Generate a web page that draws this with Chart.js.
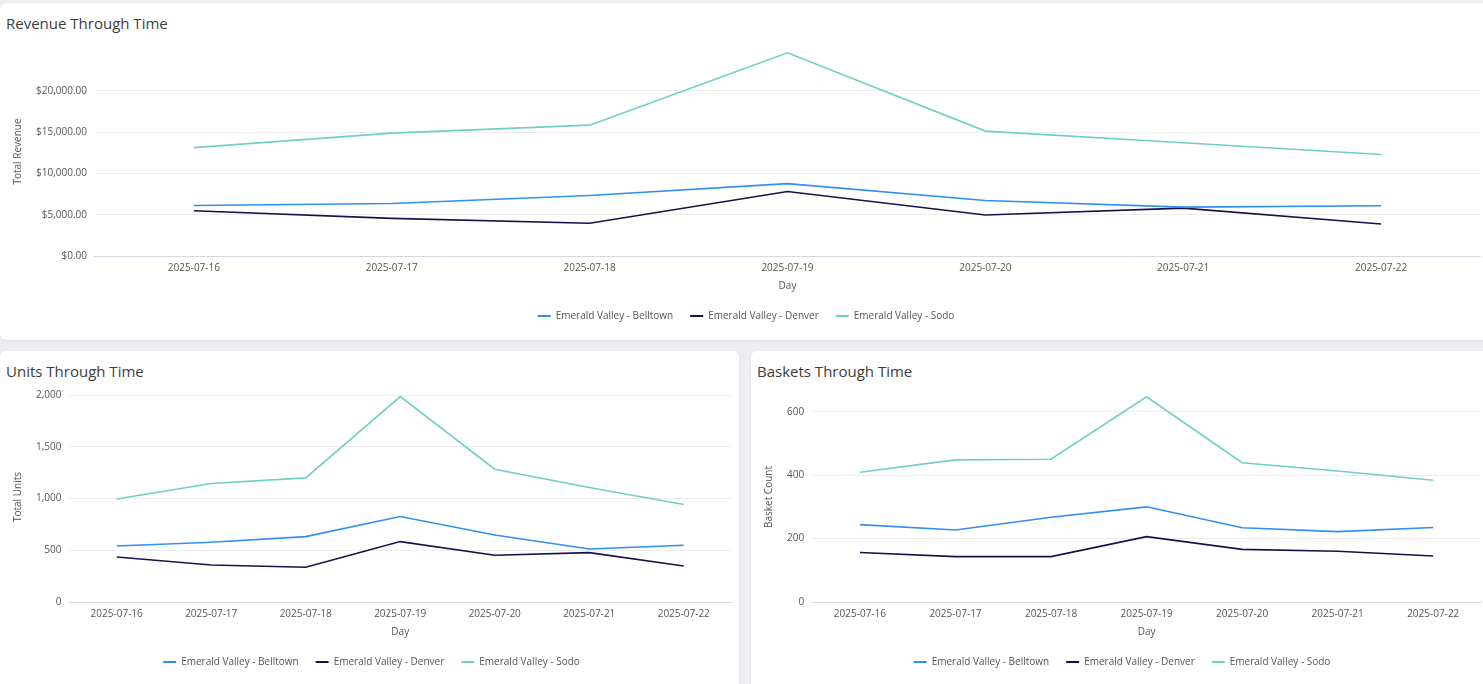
<!DOCTYPE html>
<html>
<head>
<meta charset="utf-8">
<script src="https://cdn.jsdelivr.net/npm/chart.js@4.4.1/dist/chart.umd.min.js"></script>
<style>
  html, body { margin: 0; padding: 0; background: #eceef1; width: 1483px; height: 684px; overflow: hidden; font-family: 'Open Sans', sans-serif; }
  .card { position: absolute; background: #fff; border-radius: 6px; box-shadow: 0 1px 3px rgba(0,0,0,0.08); overflow: hidden; }
  .card h3 { position: absolute; margin: 0; font-weight: 400; font-size: 15px; color: #3d3d3d; left: 6px; top: 10px; }
  .wrap { position: absolute; }
</style>
</head>
<body>
<div class="card" style="left:0; top:3px; width:1490px; height:337px;">
  <h3>Revenue Through Time</h3>
  <div class="wrap" style="left:0; top:30px; width:1483px; height:302px;"><canvas id="revenueChart"></canvas></div>
</div>
<div class="card" style="left:0; top:351px; width:739px; height:340px;">
  <h3>Units Through Time</h3>
  <div class="wrap" style="left:0; top:27px; width:739px; height:303px;"><canvas id="unitsChart"></canvas></div>
</div>
<div class="card" style="left:751px; top:351px; width:740px; height:340px;">
  <h3>Baskets Through Time</h3>
  <div class="wrap" style="left:0; top:27px; width:732px; height:303px;"><canvas id="basketsChart"></canvas></div>
</div>
<script>
// Days and store names
const days = ['2025-07-16', '2025-07-17', '2025-07-18', '2025-07-19', '2025-07-20', '2025-07-21', '2025-07-22'];
const stores = ['Emerald Valley - Belltown', 'Emerald Valley - Denver', 'Emerald Valley - Sodo'];
const storeColors = ['#2f8ff2', '#14134a', '#6fcfc6'];

// Revenue per store (dollars)
const revenueBelltown = [6120, 6360, 7320, 8760, 6720, 5920, 6080];
const revenueDenver = [5480, 4560, 3960, 7800, 4960, 5800, 3880];
const revenueSodo = [13120, 14880, 15840, 24600, 15120, 13700, 12280];
const revenueTicks = [0, 5000, 10000, 15000, 20000];

// Units per store
const unitsBelltown = [542, 578, 632, 826, 648, 513, 548];
const unitsDenver = [435, 358, 336, 584, 452, 477, 348];
const unitsSodo = [995, 1145, 1200, 1985, 1284, 1106, 942];
const unitsTicks = [0, 500, 1000, 1500, 2000];

// Basket count per store
const basketsBelltown = [244, 227, 267, 300, 234, 222, 235];
const basketsDenver = [156, 143, 143, 206, 166, 160, 145];
const basketsSodo = [409, 448, 450, 647, 439, 413, 384];
const basketsTicks = [0, 200, 400, 600];

const FONT = "'Open Sans', sans-serif";
const TEXT = '#555';

const makeDatasets = (series) => series.map((data, i) => ({
  label: stores[i],
  data,
  borderColor: storeColors[i],
  backgroundColor: storeColors[i],
  borderWidth: 1.6,
  pointRadius: 0,
  tension: 0
}));

const buildChart = (id, series, yTitle, yMax, tickValues, formatTick, padRight) => {
  const ctx = document.getElementById(id).getContext('2d');
  return new Chart(ctx, {
    type: 'line',
    data: { labels: days, datasets: makeDatasets(series) },
    options: {
      responsive: true,
      maintainAspectRatio: false,
      animation: false,
      layout: { padding: { left: 12, right: padRight, top: 4, bottom: 4 } },
      plugins: {
        tooltip: { enabled: false },
        legend: {
          position: 'bottom',
          labels: {
            color: TEXT,
            font: { family: FONT, size: 10 },
            boxWidth: 13,
            boxHeight: 2,
            padding: 17,
            generateLabels: (chart) => chart.data.datasets.map((ds, i) => ({
              text: ds.label,
              fillStyle: ds.borderColor,
              strokeStyle: ds.borderColor,
              lineWidth: 0,
              fontColor: TEXT,
              datasetIndex: i
            }))
          }
        }
      },
      scales: {
        x: {
          offset: true,
          grid: { display: false, drawTicks: false },
          border: { display: true, color: '#d3d9e3' },
          ticks: { color: TEXT, font: { family: FONT, size: 10 }, maxRotation: 0, padding: 6 },
          title: { display: true, text: 'Day', color: TEXT, font: { family: FONT, size: 10 }, padding: { top: 0, bottom: 2 } }
        },
        y: {
          min: 0,
          max: yMax,
          grid: { color: '#ececec', drawTicks: false },
          border: { display: false },
          afterBuildTicks: (scale) => { scale.ticks = tickValues.map(v => ({ value: v })); },
          ticks: { color: TEXT, font: { family: FONT, size: 10 }, padding: 8, callback: formatTick },
          title: { display: true, text: yTitle, color: TEXT, font: { family: FONT, size: 10 }, padding: { top: 0, bottom: 4 } }
        }
      }
    }
  });
};

const money = (v) => '$' + Number(v).toLocaleString('en-US', { minimumFractionDigits: 2, maximumFractionDigits: 2 });
const plain = (v) => Number(v).toLocaleString('en-US');

buildChart('revenueChart', [revenueBelltown, revenueDenver, revenueSodo], 'Total Revenue', 25300, revenueTicks, money, 3);
buildChart('unitsChart', [unitsBelltown, unitsDenver, unitsSodo], 'Total Units', 2030, unitsTicks, plain, 8);
buildChart('basketsChart', [basketsBelltown, basketsDenver, basketsSodo], 'Basket Count', 662, basketsTicks, plain, 2);
</script>
</body>
</html>
